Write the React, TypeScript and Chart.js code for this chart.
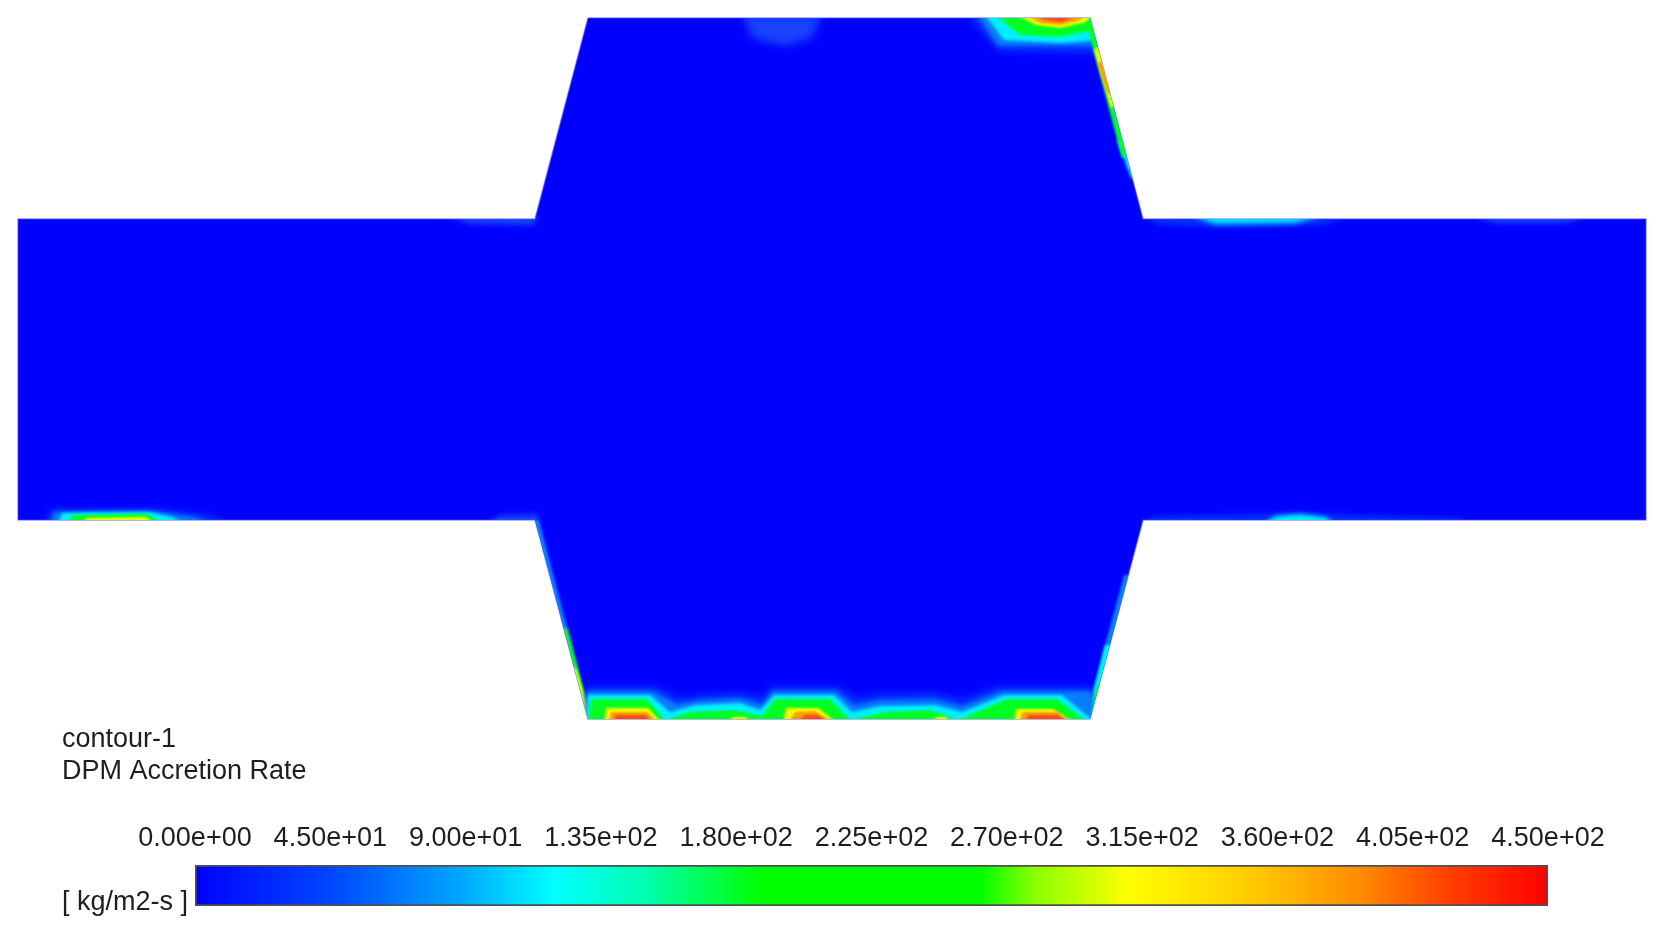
import React, { useEffect, useRef } from 'react';
import { Chart, registerables } from 'chart.js';

type P = [number, number];

// ---------- geometry of the duct (model units = reference pixels, y downward) ----------
const ductOutline: P[] = [
  [588, 18], [1090, 18], [1143, 219], [1646, 219], [1646, 520], [1143, 520],
  [1090, 719], [588, 719], [535, 520], [18, 520], [18, 219], [535, 219], [588, 18],
];

// ---------- accretion hot spots (contour bands) ----------
// top-right corner of the expansion
const trHalo: P[] = [[966, 14], [1094, 14], [1102, 54], [998, 52]];
const trBlue: P[] = [[976, 14], [1094, 14], [1100, 46], [998, 46]];
const trCyan: P[] = [[984, 14], [1094, 14], [1097, 40], [1060, 43], [1004, 40]];
const trGreen: P[] = [[994, 14], [1094, 14], [1094, 30], [1060, 37], [1020, 35]];
const trYellow: P[] = [[1014, 14], [1092, 14], [1090, 21], [1060, 28], [1036, 25]];
const trOrange: P[] = [[1024, 14], [1086, 14], [1080, 20], [1060, 25], [1040, 23]];
const trRed: P[] = [[1034, 14], [1078, 14], [1062, 22], [1044, 20]];
const topBlob: P[] = [[742, 14], [822, 14], [812, 38], [785, 46], [752, 38]];
// right upper slant
const rtSlantGreen: P[] = [[1086, 22], [1094, 14], [1130, 155], [1122, 158]];
const rtSlantCyan: P[] = [[1117, 140], [1134, 140], [1138, 178], [1131, 178]];
const rtSlantYellow: P[] = [[1094, 50], [1099, 46], [1116, 104], [1111, 108]];
const rtSlantRed: P[] = [[1098, 64], [1102, 60], [1112, 92], [1108, 95]];
// left pipe, lower wall
const lpHalo: P[] = [[44, 524], [50, 509], [150, 508], [212, 515], [228, 524]];
const lpBlue: P[] = [[50, 524], [54, 512], [150, 511], [195, 517], [212, 524]];
const lpCyan: P[] = [[58, 524], [62, 513], [148, 512], [172, 517], [185, 524]];
const lpGreen: P[] = [[68, 524], [72, 515], [148, 514], [163, 524]];
const lpYellow: P[] = [[82, 524], [86, 518], [145, 517], [157, 524]];
const lpEnd: P[] = [[486, 524], [500, 515], [538, 514], [538, 524]];
const lpTop: P[] = [[445, 216], [538, 216], [534, 225], [470, 224]];
// right pipe, upper wall
const rpTopBlue: P[] = [[1140, 216], [1350, 216], [1325, 225], [1230, 228], [1160, 225]];
const rpTopCyan: P[] = [[1192, 216], [1322, 216], [1295, 223], [1215, 224]];
const rpTopFaint: P[] = [[1470, 216], [1592, 216], [1565, 223], [1495, 223]];
// right pipe, lower wall
const rpBotBlue: P[] = [[1140, 524], [1152, 516], [1250, 514], [1300, 512], [1360, 515], [1462, 518], [1466, 524]];
const rpBotCyan: P[] = [[1262, 524], [1276, 516], [1300, 514], [1325, 517], [1335, 524]];
// lower slants
const lbSlantBlue: P[] = [[530, 520], [539, 520], [592, 722], [583, 722]];
const lbSlantGreen: P[] = [[555, 628], [567, 628], [592, 722], [585, 722]];
const lbSlantYellow: P[] = [[570, 668], [576, 668], [592, 722], [588, 722]];
const rbSlantBlue: P[] = [[1124, 575], [1132, 575], [1093, 722], [1084, 722]];
const rbSlantCyan: P[] = [[1105, 645], [1113, 645], [1093, 722], [1086, 722]];
const rbSlantGreen: P[] = [[1097, 685], [1104, 685], [1093, 722], [1087, 722]];
// bottom wall of the expansion
const botHalo: P[] = [[586, 722], [586, 686], [656, 686], [680, 697], [700, 694], [740, 692], [764, 696], [770, 686], [838, 686], [856, 697], [880, 693], [935, 692], [962, 698], [998, 686], [1092, 686], [1092, 722]];
const botBlue: P[] = [[586, 722], [586, 691], [653, 691], [677, 704], [700, 700], [740, 698], [762, 704], [772, 691], [836, 691], [854, 705], [880, 700], [935, 699], [962, 706], [1001, 691], [1092, 691], [1092, 722]];
const botCyan: P[] = [[586, 722], [588, 695], [650, 695], [670, 712], [695, 705], [740, 703], [760, 710], [774, 695], [834, 695], [852, 712], [880, 706], [935, 705], [962, 712], [1004, 695], [1062, 695], [1090, 718], [1092, 722]];
const botGreen: P[] = [[588, 722], [591, 699], [647, 699], [665, 720], [690, 712], [735, 710], [762, 716], [775, 699], [830, 699], [850, 720], [885, 712], [930, 710], [958, 720], [1007, 699], [1057, 699], [1085, 720], [1090, 722]];
const botYellow1: P[] = [[604, 722], [606, 708], [648, 708], [661, 722]];
const botYellow2: P[] = [[783, 722], [786, 708], [818, 708], [836, 722]];
const botYellow3: P[] = [[1014, 722], [1016, 709], [1053, 709], [1073, 722]];
const botYellow4: P[] = [[728, 722], [733, 717], [745, 717], [750, 722]];
const botYellow5: P[] = [[932, 722], [936, 717], [946, 717], [950, 722]];
const botOrange1: P[] = [[609, 722], [611, 712], [647, 712], [657, 722]];
const botOrange2: P[] = [[789, 722], [795, 712], [815, 711], [832, 722]];
const botOrange3: P[] = [[1020, 722], [1022, 712], [1058, 712], [1070, 722]];
const botRed1: P[] = [[614, 722], [616, 715], [645, 715], [652, 722]];
const botRed2: P[] = [[798, 722], [805, 715], [818, 715], [828, 722]];
const botRed3: P[] = [[1026, 722], [1028, 715], [1058, 715], [1066, 722]];

// ---------- colour bar ----------
const cbMin = 0;
const cbMax = 450;
const cbTickValues = [0, 45, 90, 135, 180, 225, 270, 315, 360, 405, 450];
const cbTickLabels = ['0.00e+00', '4.50e+01', '9.00e+01', '1.35e+02', '1.80e+02', '2.25e+02', '2.70e+02', '3.15e+02', '3.60e+02', '4.05e+02', '4.50e+02'];
const cbStops = [0, 0.1, 0.2, 0.265, 0.33, 0.42, 0.58, 0.62, 0.69, 0.78, 0.86, 0.93, 1];
const cbColors = ['#0000ff', '#0046ff', '#00aaff', '#00ffff', '#00ffb4', '#00ff00', '#00ff00', '#88ff00', '#ffff00', '#ffcc00', '#ff8c00', '#ff3c00', '#ff0000'];

const titleLines = ['contour-1', 'DPM Accretion Rate'];
const unitLabel = '[ kg/m2-s ]';

const FONT = '"Liberation Sans", Arial, Helvetica, sans-serif';

const C = {
  halo: 'rgba(0,80,255,0.55)',
  blue: '#0a7dff',
  cyan: '#00f0ff',
  green: '#00ff20',
  yellow: '#f2ff00',
  orange: '#ff9a00',
  red: '#ff4a10',
  faint: 'rgba(40,110,255,0.6)',
};

const blurClip = {
  id: 'blurClip',
  beforeDatasetDraw(chart: any, args: any) {
    const ds = chart.data.datasets[args.index];
    if (ds.blur == null) return;
    const ctx = chart.ctx;
    ctx.save();
    const outline = chart.getDatasetMeta(0).dataset;
    ctx.beginPath();
    outline.path(ctx);
    ctx.closePath();
    ctx.clip();
    if (ds.blur > 0) ctx.filter = `blur(${ds.blur}px)`;
  },
  afterDatasetDraw(chart: any, args: any) {
    const ds = chart.data.datasets[args.index];
    if (ds.blur == null) return;
    chart.ctx.restore();
  },
};

Chart.register(blurClip as any);
Chart.register(...registerables);

const band = (pts: P[], color: string, blur: number) => ({
  data: pts.map(([x, y]) => ({ x, y })),
  backgroundColor: color,
  borderWidth: 0,
  pointRadius: 0,
  fill: 'shape',
  blur,
});

const textPlugin = {
  id: 'ductText',
  afterDraw(chart: any) {
    const ctx = chart.ctx;
    ctx.save();
    ctx.fillStyle = '#1e1e1e';
    ctx.font = `27px ${FONT}`;
    ctx.textBaseline = 'alphabetic';
    ctx.textAlign = 'left';
    ctx.fillText(titleLines[0], 62, 747);
    ctx.fillText(titleLines[1], 62, 779);
    ctx.fillText(unitLabel, 62, 910);
    ctx.restore();
  },
};

export default function App() {
  const mainRef = useRef<HTMLCanvasElement>(null);
  const barRef = useRef<HTMLCanvasElement>(null);

  useEffect(() => {
    const bands: any[] = [
      band(topBlob, C.faint, 4),
      band(trHalo, C.halo, 3), band(trBlue, C.blue, 2), band(trCyan, C.cyan, 1.5),
      band(trGreen, C.green, 1), band(trYellow, C.yellow, 1), band(trOrange, C.orange, 1), band(trRed, C.red, 1),
      band(rtSlantCyan, C.cyan, 1.5), band(rtSlantGreen, C.green, 0.8), band(rtSlantYellow, C.yellow, 0.8), band(rtSlantRed, C.orange, 0.8),
      band(lpHalo, C.halo, 3), band(lpBlue, C.blue, 2), band(lpCyan, C.cyan, 1.5), band(lpGreen, C.green, 1), band(lpYellow, C.yellow, 1),
      band(lpEnd, C.faint, 2.5), band(lpTop, C.faint, 2.5),
      band(rpTopBlue, C.halo, 2.5), band(rpTopCyan, C.cyan, 2.5), band(rpTopFaint, C.faint, 2.5),
      band(rpBotBlue, C.halo, 2.5), band(rpBotCyan, C.cyan, 2),
      band(lbSlantBlue, C.blue, 1), band(lbSlantGreen, C.green, 0.8), band(lbSlantYellow, C.yellow, 0.8),
      band(rbSlantBlue, C.blue, 1.2), band(rbSlantCyan, C.cyan, 0.8), band(rbSlantGreen, C.green, 0.8),
      band(botHalo, C.halo, 3), band(botBlue, C.blue, 2), band(botCyan, C.cyan, 1.5), band(botGreen, C.green, 1),
      band(botYellow1, C.yellow, 1), band(botYellow2, C.yellow, 1), band(botYellow3, C.yellow, 1),
      band(botYellow4, C.yellow, 1), band(botYellow5, C.yellow, 1),
      band(botOrange1, C.orange, 1), band(botOrange2, C.orange, 1), band(botOrange3, C.orange, 1),
      band(botRed1, C.red, 1), band(botRed2, C.red, 1), band(botRed3, C.red, 1),
    ];
    // Chart.js paints higher `order` first: duct underneath, then bands in list order
    bands.forEach((b, i) => { b.order = bands.length - i; });

    const datasets: any[] = [
      {
        data: ductOutline.map(([x, y]) => ({ x, y })),
        backgroundColor: '#0000ff',
        borderColor: 'rgba(70,70,255,0.55)',
        borderWidth: 1.5,
        pointRadius: 0,
        fill: 'shape',
        order: bands.length + 10,
      },
      ...bands,
    ];

    const main = new Chart(mainRef.current as HTMLCanvasElement, {
      type: 'line',
      data: { datasets },
      options: {
        responsive: false,
        animation: false,
        devicePixelRatio: 1,
        events: [],
        layout: { padding: 0 },
        elements: { line: { tension: 0 }, point: { radius: 0 } },
        scales: {
          x: { type: 'linear', min: 0, max: 1668, display: false },
          y: { type: 'linear', min: 0, max: 935, reverse: true, display: false },
        },
        plugins: { legend: { display: false }, tooltip: { enabled: false } },
      } as any,
      plugins: [textPlugin],
    });

    const gradient = (ctx: any) => {
      const chart = ctx.chart;
      const area = chart.chartArea;
      if (!area) return cbColors[0];
      const g = chart.ctx.createLinearGradient(area.left, 0, area.right, 0);
      cbStops.forEach((s, i) => g.addColorStop(s, cbColors[i]));
      return g;
    };

    const bar = new Chart(barRef.current as HTMLCanvasElement, {
      type: 'bar',
      data: {
        labels: [''],
        datasets: [
          {
            data: [[cbMin, cbMax]] as any,
            backgroundColor: gradient,
            borderColor: '#4f4f4f',
            borderWidth: 2,
            borderSkipped: false,
            barPercentage: 1,
            categoryPercentage: 1,
          },
        ],
      },
      options: {
        indexAxis: 'y',
        responsive: false,
        animation: false,
        devicePixelRatio: 1,
        events: [],
        layout: { padding: { left: 195, right: 120, top: 24, bottom: 29 } },
        scales: {
          x: {
            type: 'linear',
            position: 'top',
            min: cbMin,
            max: cbMax,
            grid: { display: false, drawTicks: false },
            border: { display: false },
            afterBuildTicks: (scale: any) => {
              scale.ticks = cbTickValues.map((v) => ({ value: v }));
            },
            ticks: {
              autoSkip: false,
              maxRotation: 0,
              padding: 10,
              color: '#1e1e1e',
              font: { family: FONT, size: 27 },
              callback: (_v: any, i: number) => cbTickLabels[i],
            },
          },
          y: { display: false },
        },
        plugins: { legend: { display: false }, tooltip: { enabled: false } },
      } as any,
    });

    return () => {
      main.destroy();
      bar.destroy();
    };
  }, []);

  return (
    <div style={{ position: 'fixed', left: 0, top: 0, width: 1668, height: 935, background: '#ffffff' }}>
      <canvas ref={mainRef} width={1668} height={935} style={{ position: 'absolute', left: 0, top: 0, width: 1668, height: 935 }} />
      <canvas ref={barRef} width={1668} height={135} style={{ position: 'absolute', left: 0, top: 800, width: 1668, height: 135 }} />
    </div>
  );
}
